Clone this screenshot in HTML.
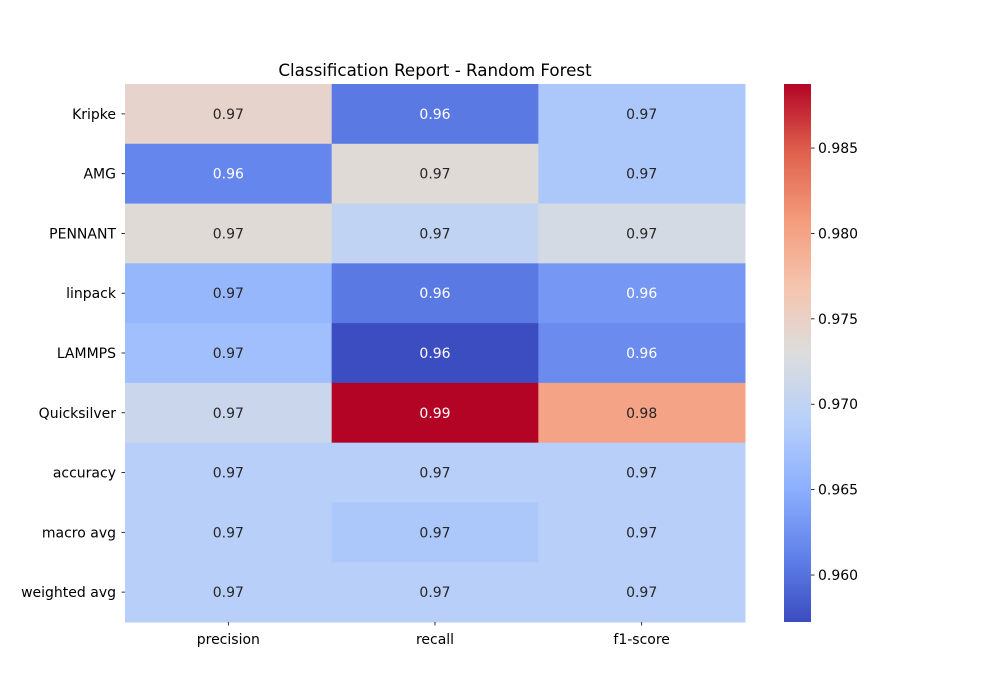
<!DOCTYPE html>
<html><head><meta charset="utf-8">
<style>
html,body{margin:0;padding:0;background:#fff;}
svg{display:block;font-family:"DejaVu Sans","Liberation Sans",sans-serif;}
</style></head>
<body>
<svg id="chart" width="1000" height="700" viewBox="0 0 1000 700" xmlns="http://www.w3.org/2000/svg">
<text x="435" y="76" font-size="16.7" text-anchor="middle" fill="#000">Classification Report - Random Forest</text>
<g id="cells"></g>
<g id="ylabels"></g>
<g id="xlabels"></g>
<defs><linearGradient id="cg" x1="0" y1="1" x2="0" y2="0"></linearGradient></defs>
<rect x="784" y="84" width="27" height="538" fill="url(#cg)"/>
<g id="cticks"></g>
</svg>
<script>
const rows = ["Kripke","AMG","PENNANT","linpack","LAMMPS","Quicksilver","accuracy","macro avg","weighted avg"];
const cols = ["precision","recall","f1-score"];
const precision = [0.9745,0.9615,0.9735,0.966,0.967,0.971,0.969,0.969,0.969];
const recall    = [0.9605,0.9735,0.970,0.9605,0.9573,0.9888,0.969,0.968,0.969];
const f1score   = [0.968,0.968,0.972,0.963,0.962,0.980,0.969,0.969,0.969];
const cbTicks = [0.960,0.965,0.970,0.975,0.980,0.985];
const vmin = 0.95725, vmax = 0.98875;

const series=[precision,recall,f1score];
const X0=125,X1=745,Y0=84,Y1=622;
const cw=(X1-X0)/cols.length, rh=(Y1-Y0)/rows.length;
const NS="http://www.w3.org/2000/svg";
const anchors=[[59,76,192],[98,130,234],[141,176,254],[184,208,249],[221,221,221],[245,196,173],[244,154,123],[222,96,77],[180,4,38]];
function cmap(t){t=Math.max(0,Math.min(1,t));const p=t*8,i=Math.min(7,Math.floor(p)),f=p-i;
 return anchors[i].map((a,k)=>Math.round(a+(anchors[i+1][k]-a)*f));}
function norm(v){return (v-vmin)/(vmax-vmin);}
function yScale(v){return Y1-norm(v)*(Y1-Y0);}
function lin(c){c/=255;return c<=0.03928?c/12.92:Math.pow((c+0.055)/1.055,2.4);}
function mk(tag,attrs,parent){const e=document.createElementNS(NS,tag);for(const k in attrs)e.setAttribute(k,attrs[k]);parent.appendChild(e);return e;}
const cells=document.getElementById('cells');
for(let c=0;c<cols.length;c++){for(let r=0;r<rows.length;r++){
 const v=series[c][r];const col=cmap(norm(v));
 const rect=mk('rect',{x:X0+c*cw,y:Y0+r*rh,width:cw+0.5,height:rh+0.5,fill:`rgb(${col})`},cells);
 
 
 const lum=0.2126*lin(col[0])+0.7152*lin(col[1])+0.0722*lin(col[2]);
 const t=mk('text',{x:X0+c*cw+cw/2,y:Y0+r*rh+rh/2+5,'font-size':14,'text-anchor':'middle',fill:lum<0.408?'#fff':'#262626'},cells);
 
 
 t.textContent=v.toFixed(2);
}}
const yl=document.getElementById('ylabels');
rows.forEach((n,r)=>{const y=Y0+r*rh+rh/2;
 mk('line',{x1:X0-3.5,x2:X0,y1:y,y2:y,stroke:'#000','stroke-width':0.8},yl);
 const t=mk('text',{x:X0-9,y:y+5,'font-size':14,'text-anchor':'end',fill:'#000'},yl);
 
 
 t.textContent=n;});
const xl=document.getElementById('xlabels');
cols.forEach((n,c)=>{const x=X0+c*cw+cw/2;
 mk('line',{x1:x,x2:x,y1:Y1,y2:Y1+3.5,stroke:'#000','stroke-width':0.8},xl);
 const t=mk('text',{x:x,y:Y1+22,'font-size':14,'text-anchor':'middle',fill:'#000'},xl);
 
 
 t.textContent=n;});
const g=document.getElementById('cg');
anchors.forEach((a,i)=>mk('stop',{offset:(i/8*100)+'%','stop-color':`rgb(${a})`},g));
const ct=document.getElementById('cticks');
cbTicks.forEach(v=>{const y=yScale(v);
 mk('line',{x1:811,x2:814.5,y1:y,y2:y,stroke:'#000','stroke-width':0.8},ct);
 const t=mk('text',{x:818,y:y+5,'font-size':14,fill:'#000'},ct);
 
 
 t.textContent=v.toFixed(3);});
</script>
</body></html>
